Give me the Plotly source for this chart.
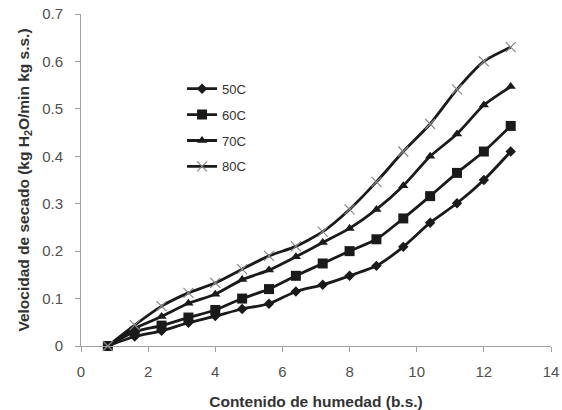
import plotly.graph_objects as go

humedad = [0.8, 1.6, 2.4, 3.2, 4.0, 4.8, 5.6, 6.4, 7.2, 8.0, 8.8, 9.6, 10.4, 11.2, 12.0, 12.8]
v50 = [0, 0.020, 0.032, 0.049, 0.063, 0.078, 0.089, 0.115, 0.129, 0.148, 0.169, 0.209, 0.260, 0.301, 0.350, 0.410]
v60 = [0, 0.030, 0.043, 0.060, 0.076, 0.100, 0.120, 0.148, 0.174, 0.200, 0.225, 0.269, 0.316, 0.365, 0.410, 0.464]
v70 = [0, 0.037, 0.062, 0.090, 0.109, 0.140, 0.160, 0.188, 0.218, 0.248, 0.288, 0.338, 0.400, 0.447, 0.508, 0.547]
v80 = [0, 0.044, 0.084, 0.112, 0.133, 0.162, 0.190, 0.210, 0.241, 0.288, 0.346, 0.410, 0.468, 0.541, 0.600, 0.630]

series = [
    ("50C", v50, dict(symbol="diamond", size=8, color="#1a1a1a")),
    ("60C", v60, dict(symbol="square", size=10, color="#1a1a1a")),
    ("70C", v70, dict(symbol="triangle-up", size=9, color="#1a1a1a")),
    ("80C", v80, dict(symbol="x-thin-open", size=10, color="#888888", line=dict(color="#888888", width=1.2))),
]

fig = go.Figure()
for i, (name, vals, mk) in enumerate(series):
    fig.add_trace(go.Scatter(
        x=humedad, y=vals, name=name, mode="lines+markers",
        line=dict(color="#1a1a1a", width=2.8, shape="spline", smoothing=0.6),
        marker=mk, legendgroup=f"g{i}", cliponaxis=False,
    ))

font_family = "Liberation Sans, Arial, sans-serif"
fig.update_layout(
    width=562, height=410,
    margin=dict(l=81, r=11, t=14, b=64, autoexpand=False),
    paper_bgcolor="white", plot_bgcolor="white",
    font=dict(family=font_family, size=13, color="#333333"),
    showlegend=True,
    legend=dict(x=0.215, y=0.82, xanchor="left", yanchor="top",
                font=dict(size=13, color="#333333"), tracegroupgap=6,
                bgcolor="rgba(0,0,0,0)"),
    xaxis=dict(range=[0, 14], dtick=2, showgrid=False, zeroline=False, automargin=False,
               showline=True, linecolor="#a0a0a0", linewidth=1,
               ticks="outside", ticklen=5, tickcolor="#a0a0a0", ticklabelstandoff=7,
               tickfont=dict(size=15, color="#505050"),
               title=dict(text="<b>Contenido de humedad (b.s.)</b>", font=dict(size=15.5, color="#333333"), standoff=17)),
    yaxis=dict(range=[0, 0.7], dtick=0.1, showgrid=False, zeroline=False, automargin=False,
               showline=True, linecolor="#a0a0a0", linewidth=1,
               ticks="outside", ticklen=5, tickcolor="#a0a0a0", ticklabelstandoff=9,
               tickfont=dict(size=15, color="#505050"),
               title=dict(text="<b>Velocidad de secado (kg H<sub>2</sub>O/min kg s.s.)</b>", font=dict(size=15.5, color="#333333"), standoff=8)),
)

fig.write_html("out.html", config={"displayModeBar": False},
               post_script="document.body.style.margin='0';")
